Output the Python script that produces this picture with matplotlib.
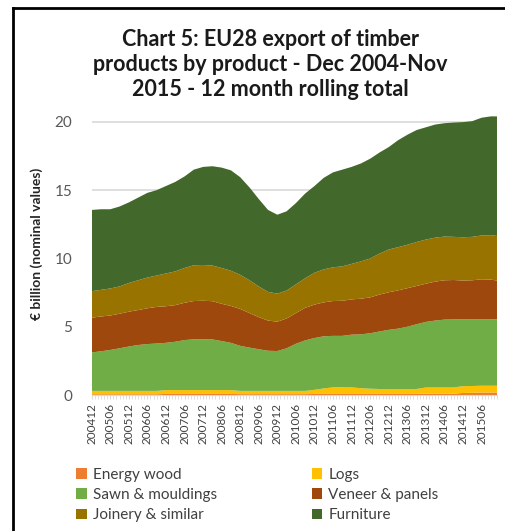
import numpy as np
import matplotlib.pyplot as plt
from matplotlib.lines import Line2D

# month index (0 = Dec 2004 ... 131 = Nov 2015), read every quarter
months = [0, 3, 6, 9, 12, 15, 18, 21, 24, 27, 30, 33, 36, 39, 42, 45, 48, 51, 54, 57,
          60, 63, 66, 69, 72, 75, 78, 81, 84, 87, 90, 93, 96, 99, 102, 105, 108, 111,
          114, 117, 120, 123, 126, 129, 131]

energy_wood = [0.05, 0.05, 0.05, 0.05, 0.05, 0.05, 0.05, 0.05, 0.08, 0.08, 0.08, 0.08,
               0.08, 0.08, 0.08, 0.08, 0.06, 0.06, 0.06, 0.06, 0.06, 0.06, 0.06, 0.06,
               0.08, 0.08, 0.08, 0.08, 0.08, 0.08, 0.08, 0.08, 0.08, 0.08, 0.08, 0.08,
               0.10, 0.10, 0.10, 0.10, 0.15, 0.16, 0.18, 0.18, 0.18]
logs = [0.25, 0.25, 0.25, 0.25, 0.25, 0.25, 0.25, 0.25, 0.28, 0.28, 0.28, 0.28,
        0.28, 0.28, 0.28, 0.28, 0.24, 0.24, 0.24, 0.24, 0.24, 0.24, 0.24, 0.24,
        0.30, 0.40, 0.48, 0.50, 0.48, 0.42, 0.38, 0.36, 0.36, 0.36, 0.36, 0.36,
        0.45, 0.45, 0.45, 0.45, 0.50, 0.50, 0.50, 0.50, 0.50]
sawn = [2.82, 2.90, 3.00, 3.12, 3.25, 3.36, 3.43, 3.47, 3.46, 3.54, 3.66, 3.72,
        3.72, 3.71, 3.59, 3.46, 3.30, 3.17, 3.05, 2.94, 2.92, 3.12, 3.45, 3.70,
        3.79, 3.82, 3.77, 3.75, 3.86, 3.94, 4.06, 4.21, 4.33, 4.42, 4.56, 4.74,
        4.80, 4.90, 4.97, 4.99, 4.89, 4.88, 4.86, 4.87, 4.86]
veneer = [2.54, 2.55, 2.52, 2.53, 2.55, 2.56, 2.62, 2.68, 2.68, 2.68, 2.73, 2.80,
          2.82, 2.80, 2.73, 2.70, 2.70, 2.53, 2.35, 2.21, 2.15, 2.18, 2.25, 2.38,
          2.45, 2.48, 2.55, 2.57, 2.58, 2.61, 2.63, 2.70, 2.75, 2.80, 2.82, 2.80,
          2.80, 2.85, 2.88, 2.88, 2.84, 2.86, 2.93, 2.90, 2.84]
joinery = [1.94, 1.95, 1.98, 2.00, 2.10, 2.18, 2.25, 2.30, 2.40, 2.47, 2.55, 2.62,
           2.62, 2.61, 2.62, 2.58, 2.50, 2.40, 2.25, 2.10, 2.05, 2.05, 2.10, 2.17,
           2.33, 2.42, 2.47, 2.52, 2.60, 2.73, 2.85, 3.00, 3.13, 3.16, 3.18, 3.22,
           3.23, 3.22, 3.20, 3.16, 3.17, 3.18, 3.21, 3.25, 3.27]
furniture = [5.95, 5.90, 5.80, 5.85, 5.90, 6.05, 6.20, 6.25, 6.40, 6.55, 6.70, 7.00,
             7.18, 7.27, 7.35, 7.35, 7.15, 6.80, 6.40, 6.00, 5.78, 5.80, 5.95, 6.20,
             6.35, 6.70, 6.95, 7.08, 7.10, 7.17, 7.30, 7.40, 7.50, 7.83, 8.05, 8.20,
             8.22, 8.28, 8.30, 8.37, 8.43, 8.47, 8.62, 8.70, 8.75]

series_names = ["Energy wood", "Logs", "Sawn & mouldings", "Veneer & panels",
                "Joinery & similar", "Furniture"]
colors = ["#ED7D31", "#FFC000", "#70AD47", "#9E480E", "#997300", "#43682B"]

tick_labels = ["200412", "200506", "200512", "200606", "200612", "200706", "200712",
               "200806", "200812", "200906", "200912", "201006", "201012", "201106",
               "201112", "201206", "201212", "201306", "201312", "201406", "201412",
               "201506"]

fig = plt.figure(figsize=(5.06, 5.31), dpi=100)
ax = fig.add_axes([0.1812, 0.2561, 0.801, 0.5273])

ax.stackplot(months, energy_wood, logs, sawn, veneer, joinery, furniture,
             colors=colors, labels=series_names, linewidth=0, zorder=2)

ax.set_xlim(0, 131)
ax.set_ylim(0, 20.5)
ax.set_yticks([0, 5, 10, 15, 20])
ax.yaxis.grid(True, color="#D9D9D9", linewidth=1.2, zorder=0)
ax.set_axisbelow(True)
for s in ["top", "right", "left"]:
    ax.spines[s].set_visible(False)
ax.spines["bottom"].set_color("#D9D9D9")
ax.tick_params(axis="y", length=0, labelsize=11, labelcolor="#595959", pad=14)

ax.set_xticks(range(0, 132, 6))
ax.set_xticklabels(tick_labels, rotation=90, fontsize=8.5, color="#404040")
ax.set_xticks(range(0, 132), minor=True)
ax.tick_params(axis="x", which="both", length=3, color="#D9D9D9", pad=3)

for t in ax.get_yticklabels() + ax.get_xticklabels():
    t.set_family("Lato")

ax.set_ylabel("€ billion (nominal values)", fontsize=10, fontweight="bold",
              family="Lato", color="#262626")
ax.yaxis.set_label_coords(-0.12, 0.54)

fig.text(0.534, 0.879, "Chart 5: EU28 export of timber\nproducts by product - Dec 2004-Nov\n2015 - 12 month rolling total",
         ha="center", va="center", fontsize=15.5, fontweight="bold", family="Lato",
         color="#1a1a1a", linespacing=1.25)

handles, labels = ax.get_legend_handles_labels()
order = [0, 2, 4, 1, 3, 5]
leg = fig.legend([handles[i] for i in order], [labels[i] for i in order],
                 loc="upper left", bbox_to_anchor=(0.135, 0.133), ncol=2, frameon=False,
                 prop={"family": "Lato", "size": 11}, handlelength=0.7, handleheight=0.7,
                 handletextpad=0.4, columnspacing=6.2, labelspacing=0.4, borderpad=0)
for t in leg.get_texts():
    t.set_color("#404040")

# outer chart frame (cropped at right and bottom)
fig.add_artist(Line2D([13 / 506, 13 / 506], [0, 1 - 8 / 531], color="black", lw=2))
fig.add_artist(Line2D([13 / 506, 1], [1 - 8 / 531, 1 - 8 / 531], color="black", lw=2))

fig.savefig("out.png", dpi=100)
